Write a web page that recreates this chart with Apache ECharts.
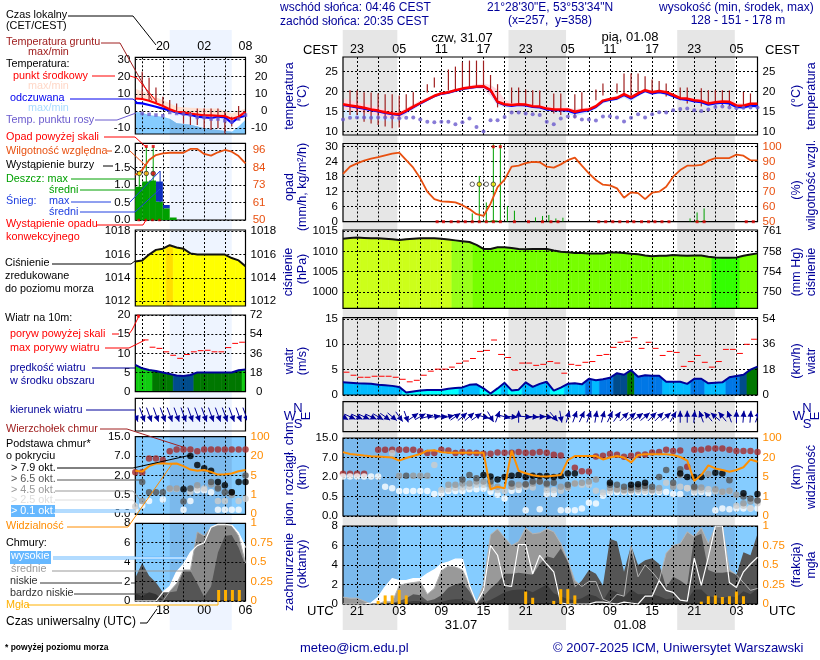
<!DOCTYPE html>
<html>
<head>
<meta charset="utf-8">
<style>html,body{margin:0;background:#fff}#chart{width:820px;height:660px}</style>
<script src="https://cdn.jsdelivr.net/npm/echarts@6/dist/echarts.min.js"></script>
</head>
<body>
<div id="chart"></div>
<script>
// main meteogram: hour 0 = 19 UTC 30.07, 60 hourly values
var cestLabels = ['23', '05', '11', '17', '23', '05', '11', '17', '23', '05'];
var utcLabels = ['21', '03', '09', '15', '21', '03', '09', '15', '21', '03'];
var localLabels = ['20', '02', '08'];
var utcLeftLabels = ['18', '00', '06'];
var nightRanges = [[0, 7.77], [23.58, 31.77], [47.58, 55.77]];
var nightLeft = [[5, 14]];

var tempMid = [16.8,16.5,16.2,15.9,15.5,15.2,14.8,14.5,14.3,15.2,16.2,17.1,18,18.9,19.5,19.8,20.3,20.7,21,21.2,21.3,20.3,17.4,16.8,16.6,16.8,16.7,16.3,16.2,15.7,15.5,15.5,15.5,14.9,15.3,15.5,16.3,17.7,18.1,18.4,19.3,18.5,19.5,20.3,19.8,20.1,19.8,19.1,18.3,18.2,17.8,17.6,17,17.3,17.5,17.4,16.5,16.4,16.9,16.9];
var tempFeels = [16.6,16.3,16,15.7,15.3,15,14.6,14.3,14.1,15,16,17,17.9,18.8,19.4,19.7,20.2,20.6,20.9,21.1,21.2,20.2,17.3,16.6,16.4,16.6,16.5,16.1,16,15.5,15.3,15.3,15.2,14.6,15,15.3,16.1,17.5,17.9,18.2,19.1,18.2,19.2,20.1,19.5,19.8,19.5,18.8,18.1,17.9,17.5,17.3,16.7,17,17.2,17,16.1,16,16.4,16.3];
var tempMax = [18.3,17.8,17.3,17,16.5,16,15.5,15.2,14.9,15.8,16.8,17.8,18.4,19.3,19.9,20.1,20.6,21.1,21.5,21.8,22,21.6,20.5,18,17.2,17.3,17.1,16.9,16.6,16.3,16.1,16.1,16,15.6,15.8,16,16.7,18,18.5,18.9,19.7,19,19.9,20.7,20.2,20.5,20.2,19.5,18.8,18.6,18.3,18.1,17.6,17.8,18,17.9,17.1,17,17.3,17.3];
var tempMin = [15.5,15.2,15,14.6,14.2,14,13.6,13.2,13,14.5,15.6,16.8,17.6,18.6,19.1,19.4,19.9,20.4,20.6,20.8,20.6,19,16.7,16.2,16.1,16.3,16.2,15.9,15.8,15.3,15.1,15.1,15,14.4,14.8,15.1,15.9,17.3,17.7,18,18.8,18,19,19.9,19.4,19.7,19.3,18.7,17.9,17.7,17.3,17.1,16.5,16.8,17,16.9,16,15.9,16.5,16.5];
var feelsMin = [13.6,13.5,13.3,13.2,13,12.8,12.6,12.5,12.4,14.2,15.4,16.6,17.5,18.5,19,19.3,19.8,20.3,20.5,20.7,20.5,18.8,16.5,16,15.9,16.1,16,15.7,15.5,15,14.7,14.6,14.4,13.8,14.2,14.7,15.6,17,17.5,17.7,18.4,17.5,18.7,19.7,19.1,19.4,19,18.4,17.7,17.4,17,16.7,16,16.4,16.6,16.5,15.6,15.5,16,16];
var dewPoint = [13,13.4,13.5,13.5,13.4,13.5,13.5,13.5,13.3,13.4,13.5,13,12.4,12.3,12.4,12.4,11.8,12.3,13.2,11.1,10,12.8,12.8,13.6,14.7,14.7,14.5,14.3,14.1,12.4,11.8,13.2,13.7,13.7,13,13,12.7,13.7,13.8,13.5,12.5,13.4,14.3,13.5,14.3,14.8,14.7,15.3,15.6,15.7,15.3,15.1,15.5,16.1,16.2,16,15.8,15.9,16,16];
var groundMax = [null,20.3,20.2,19.8,19.7,19.5,19.3,19.3,19,19.3,19.8,null,21.8,23.5,null,25.5,26.2,27.3,27.7,27.7,27.7,24.1,21.8,null,21,21,20.5,20.3,20.2,null,19.5,19.5,null,19.3,19.8,null,20.5,22,null,22,24.5,24.5,24.5,23.8,23,22.6,22,null,21,21,null,20.8,20.3,20.3,20.3,20.2,null,19.9,19.5,null];
var groundMin = [null,14.1,14.1,12.4,12,11.6,11.2,10.8,11,15.5,16.2,null,19.7,21,null,20.2,20.3,20.5,20.9,21.2,21,20.3,16,null,17,17,16.6,16.2,16.2,null,14.5,14.1,null,13.3,14.9,null,17.8,19,null,19.5,19,18.3,19,19.9,19.5,19.9,18.7,null,17.8,17,null,16.2,16.6,17,16.6,16.3,null,16.2,16.2,null];

var humidity = [81.8,86.7,88.9,90.7,92,93,94.2,95.3,96,91,86,78.9,70,65,63.6,63.3,62.9,61,58.4,55,53.8,62,73,78,86.7,87.3,89,89.8,89.6,86.7,86,88.2,91,92.7,87.3,82.2,77.8,74.7,74.2,72.2,66,69.6,69,65,69.3,70,73.3,80,84.4,87.3,87.3,87.8,90.7,92.4,92.4,92.4,94.7,94,91,90.9];
var rainMaxHours = [18.4,19.4,20.4,21.4,22.4,23.4,24.4,27.4,28.4,29.3,30.3,31.3,49.4,50.4,51.4];
var rainMaxValues = [3.3,18.3,7.7,31,31,6.3,4.4,1.7,2.3,2.7,1.3,1.6,1.3,3.7,5.3];
var rainMeanHours = [20, 21, 50];
var rainMeanValues = [0.3, 0.5, 0.3];
var rainOverHours = [21.4, 22.4];
var rainOverValues = [30, 30];
var convectiveHours = [13.4,14.3,15.4,16.4,17.4,18.4,19.4,20.4,21.4,22.4,24.4,26.4,28.4,29.6,30.6,36.4,37.4,38.4,39.4,40.5,41.4,42.5,43.5,44.4,45.4,46.4,50.4,51.4,57.4,58.4];
var stormHollowHours = [18.4, 20.4];
var stormYellowHours = [19.4, 21.4];
var stormLevel = 15;

var pressure = [1013.1,1013.3,1013.4,1013.3,1013.2,1013.2,1013.1,1013,1012.8,1013,1013.1,1013.2,1013.2,1013.2,1013.1,1012.9,1012.7,1012.5,1012.3,1011.6,1010.6,1010.6,1011,1011,1010.8,1010.6,1010.5,1010.6,1010.6,1010.6,1010.2,1009.9,1009.8,1009.6,1009.6,1009.5,1009.5,1009.5,1009.7,1009.7,1009.6,1009.4,1009.3,1009,1008.8,1008.9,1008.9,1009.1,1009,1008.9,1009,1009,1008.7,1008.5,1008.4,1008.4,1008.5,1008.9,1009.2,1009.5];
var pressureTicks = [1000, 1005, 1010, 1015];
var mmHgLabels = ['750', '754', '758', '761'];

var windSpeed = [2.5,2.4,2.3,2.25,2.2,2,1.9,1.8,1.6,0.5,0.7,0.9,1,1,1,1.25,1.4,1.5,2,2.1,1.3,0.3,1.3,2.4,0.9,1.05,2.5,1.6,2.2,2.6,0.85,1.45,2.2,2.3,2.1,3.2,2.9,3.1,3.4,4.3,4,4.9,3.6,3.9,3.8,3.8,2.6,2.6,2.6,2.2,3.2,3.2,2.3,2.4,2.5,3.5,3.75,4,5,5.6];
var windGust = [4.5,3.9,3.5,3.5,3.7,3.7,3.7,3.5,3.1,2.6,2.9,3.9,4.7,5.1,5.1,5.5,6.25,6.7,7.2,8.6,8.8,10.85,8,7.4,4.9,6.3,6.3,5.85,6.05,6.6,6.3,4.3,6.05,5.85,6.45,6.6,7.8,8,9.4,10.4,10.6,11.3,9.2,10.4,9.2,7.8,8.6,8.4,5.65,6.6,7.8,6.45,5.5,6.6,9,9,8.2,10,11];
var windHeading = [120,115,115,115,115,120,125,130,145,160,55,60,75,80,85,75,55,50,50,55,105,150,20,105,95,0,95,95,90,100,140,170,15,20,25,20,10,15,25,35,45,50,55,50,45,45,50,30,0,0,5,340,320,310,320,340,0,5,5,20];

var heightStops = [0, 0.5, 2, 7, 15];
var visStops = [0, 1, 5, 20, 100];
var heightLabels = ['0.0', '0.5', '2.0', '7.0', '15.0'];
var visLabels = ['0', '1', '5', '20', '100'];
var cloudTop = [2.85,2.85,2.85,2.85,null,10.15,10.15,10.15,10.15,10.15,10.15,9.6,8.8,8.8,10.15,9.9,8.8,9.3,9.05,8.8,8.5,8.5,9.05,8.9,8.9,9.3,8.9,8.9,9.3,8.9,8.1,7.8,null,4.4,3.5,3.4,7.4,7.7,8.4,8.1,7.3,7.7,8.1,8.2,9.05,9.3,10.2,9.7,9.9,4.6,10.2,10.2,10.7,10.7,10.7,10.2,9.7,9.7,9.7,9.3];
var base79Hours = [20,21,22,23,24,25,26,27,28,29,30,31,32,33,38,41,42,43,48,49,50,51,53,54,57,59];
var base79Km = [2.5,2.1,1.8,2,2.35,2.5,2,2.35,2.25,2.25,2,2.25,2.9,2.9,1.55,1.4,1.45,1.55,2.9,2,2,2,3.1,2.9,0.75,0.7];
var base65Hours = [9,17,18,19,21,24,26,27,28,29,30,32,38,39,40,41,42,43,44,45,46,47,48,50,55,57,58,59];
var base65Km = [2.35,1.8,2.5,1.9,1.65,1.5,1.45,1.65,1.65,1.5,1.55,1.4,1.4,1.4,1.25,1.15,1.25,1.3,1.25,2,3.8,1.55,4,1.25,1.75,0.5,0.45,0.4];
var base45Hours = [8,10,11,12,15,16,17,18,19,20,21,22,24,25,26,27,28,29,31,32,33,34,35,36,38,39,40,41,42,43,44,45,47,48,50,51,52,53,54,55,56,57,58,59];
var base45Km = [2.35,2.35,2.35,2.35,1.4,1.4,1.5,1.5,1.65,1.65,1.4,1.25,1.25,1.4,1.4,1.5,1.65,1.4,1.25,1.25,1.5,1.55,1.65,1.8,1.15,1.05,1,1,1.05,1.15,1,1.15,1.25,2.5,1.15,1.2,2.8,1.05,0.87,0.95,0.63,0.33,0.37,0.4];
var base25Hours = [7,13,14,15,16,17,18,19,20,21,22,23,24,25,26,27,28,29,30,31,32,33,34,35,36,37,38,39,40,41,42,43,44,45,46,47,48,49,50,51,52,53,54,55,56,57,58,59];
var base25Km = [8.8,5.1,1,1.05,1.15,1.2,1.25,1.4,1.4,1.15,1,0.92,1.25,1.25,1.25,1.2,1.65,1,1,0.95,1.15,1.5,1.4,1.4,0.95,0.8,0.95,1,0.9,0.95,0.95,0.95,0.95,0.95,1.55,1.4,1.25,1.15,0.95,1,1.05,0.9,0.85,0.9,0.26,0.26,0.2,0.33];
var base01Km = [2.15,2.15,2.15,2.15,2.15,2.15,1.25,1.13,0.92,0.92,0.92,0.92,0.92,0.69,0.73,0.92,0.92,0.92,1.05,1.05,1.1,0.87,0.63,0.45,0.95,1,0.15,null,0.17,0.7,0.7,0.15,0.15,0.15,0.19,0.34,0.32,0.56,0.8,0.85,0.85,0.85,0.85,0.85,0.85,0.85,0.85,0.7,0.7,1.13,0.8,0.85,0.75,0.15,0.19,0.17,0.19,0.19,0.19,0.19];
var visibility = [42,34,31,28,25.6,24,22.4,20,17.6,19.6,26,34,48,50,42,40,40,40,40,40,40,2.5,3,2.7,48,9.8,7.9,6.3,5.5,5.3,6,6.5,18,26,26,26,26,18.5,20,26,20,16.2,30,33,33,33,33,30,22,17.6,4.2,6.5,14,11.6,10.4,9,10.4,12.5,18.5,16.7];

var coverHigh = [0,0,0,0,0.1,0.7,1.75,2.6,2.4,2.4,2.6,2.6,3.1,3.5,4.1,4.3,4.6,4.6,1.9,0.1,1.4,6,5,1.9,1.8,6.1,6.1,3.1,5,4.1,3.3,0.1,0,0,0,0,0.2,0.2,0.1,0,0.2,0.1,0,0.8,0.8,2.4,1.4,1.2,0.4,0.3,4.7,1.9,4.8,8,8,2.2,1.7,3.3,4.1,4.8];
var coverMid = [0.7,0.6,0.6,0.3,0,0,0.3,0.2,1.9,2.1,2.2,2.3,1,1.6,3.4,3.9,3.8,3.5,2,0.1,2,7.1,7.7,6.8,6,6.4,7.8,7.2,7.3,7.7,7.4,6.2,4.5,2.4,1.8,2.3,2.3,0.5,0.2,1,0.8,5.9,2.8,4,3.3,2.4,5.2,6,6.2,7.4,6.9,7.8,6.2,7.9,8,3.5,3,2.2,1.4,1.6];
var coverLow = [0,0,0,0,0,0,0,0.1,0.3,0.6,1,0.9,0.3,0.5,0.9,1.7,2,2.2,1.3,0,0.8,1.6,2.2,3.1,3.1,3.2,3.1,3,4.1,4.9,4.7,5.7,4.3,1.7,2.4,3.5,3.1,1.9,6.7,6.4,3.3,6,4,4.5,4.7,4.1,1.7,2.8,2.4,1.9,6.9,7.2,3.5,3.2,3.2,3.3,3,5.3,5,7.2];
var coverVeryLow = [0,0,0,0,0,0,0,0,0.1,0.2,0.3,0.3,0.1,0.1,0.2,0.4,0.5,0.5,0.3,0,0.2,0.4,0.8,1.2,1.4,1.5,1.5,1.2,1.6,2,1.1,0.8,0.5,0.4,0.6,1,0.8,0.3,1.5,1.2,0.7,1.5,1,1,1,0.8,0.5,0.6,0.4,0.4,1.5,1.5,0.8,0.7,0.6,0.8,0.7,1.3,1,1.6];
var fogHours = [5,6,7,8,9,26,27,30,31,32,33,51,52,53,54,55,56,57];
var fogValues = [0.04,0.11,0.11,0.18,0.11,0.16,0.08,0.04,0.19,0.19,0.11,0.03,0.1,0.11,0.09,0.1,0.16,0.1];

// small legend charts on the left: hour 0 = 14 UTC 30.07, 17 hourly values
var leftTempMid = [7.3,7,6,4.5,3,1,-0.4,-0.8,-1.5,-2,-2.5,-2.5,-2.7,-2.9,-4.6,-3.3,-0.4];
var leftFeels = [4.8,4.5,3.5,2.5,1.4,0.4,-0.8,-1.7,-2.1,-3.3,-3.7,-4,-3.3,-3.7,-6.8,-3.7,-2.7];
var leftTempMax = [13,11.5,10,8,6.4,4.5,2.5,2.2,2,1.8,1.5,1.5,1.5,0,-1.4,0,1.5];
var leftFeelsMax = [-0.4,-1,-2.3,-2.8,-3.3,-4.5,-7,-7.5,-8,-9,-10,-10.5,-11,-11.5,-12,-9,-5];
var leftDew = [null,-1.4,-1.9,-2.3,-2.7,-0.8,-1.4,-1.7,-2.3,-3.7,-3.7,-4.6,-4.6,-5.6,-6.2,-4.6,-2.3];
var leftGroundMax = [null,22.8,19.3,13.7,8.3,6.4,4.4,0,-0.4,1.5,1.5,1.5,1.5,-0.4,-3.3,2.9,null];
var leftGroundMin = [null,6.4,6.4,4.4,2.5,-0.4,-1.4,-7.2,-8.1,-8.1,-10,-11,-10,-13,-9,-5.2,null];
var leftHumidity = [79.6,82.9,89.4,92.7,93.8,94.2,94.2,94.2,96.7,96.7,93.4,92.3,94.5,96,94.9,92,87.2];
var leftRain = [0.95,1.1,1.13,0.52,0.33,0.07];
var leftSnowTop = [null,null,null,1.1,0.43,null];
var leftRainMaxHours = [0.58, 1.6, 2.6];
var leftRainMaxValues = [1.33, 2.1, 2.1];
var leftRainOverHours = [1.6, 2.6];
var leftRainOverValues = [2.1, 2.1];
var leftSnowMaxHours = [3.6];
var leftSnowMaxValues = [1.4];
var leftPressure = [1015.4,1015.5,1016,1016.4,1016.5,1016.8,1016.6,1016.5,1016.1,1016,1016,1016,1016,1016,1015.7,1015.5,1015];
var leftWind = [7,6.1,5.65,5.4,5,4.6,4.2,4.1,4.35,5,5,5,5,5,5,5.6,5.8];
var leftGust = [null,13.5,11.6,11.3,10.4,9.5,8.7,9.7,10.4,10.7,10.8,10.4,10.4,11.5,12.6,12.9];
var leftHeading = [160,160,160,160,160,160,160,160,160,160,160,160,160,160,160,160,160];
var leftCloudTop = [2.85,2.85,6.4,6.4,6,9,9.7,9.7,9.7,9,9.7,9.7,9.7,9.7,9.7,9.7,9.7];
var leftBase79Hours = [7,8,9,10,11,12,13,14,15,16];
var leftBase79Km = [0.93,7,4.7,3.9,3.2,1.5,1.25,0.7,1.5,1.5];
var leftBase65Hours = [1,2,3,4,7,8,11,12,13,14,16];
var leftBase65Km = [1.5,0.7,0.7,0.7,0.33,1,1.5,1,0.7,0.7,2];
var leftBase45Hours = [1,5,6,9,11,12,14];
var leftBase45Km = [0.34,1,1,1.25,1.3,1.1,0.5];
var leftBase25Hours = [0,5,6,8,9,10,12,13,15,16];
var leftBase25Km = [0.2,0.95,0.95,0.75,1,1,0.34,0.34,0.34,0.4];
var leftBase01Hours = [0,1,2,4,7,8,9,10,11,12,13,14,15];
var leftBase01Km = [0.12,0.23,0.34,0.38,0.12,0.34,0.85,0.85,0.7,0.12,0.12,0.12,0.12];
var leftVisibility = [8.6,8,12.2,14.3,14.3,14,14.3,12.2,9.6,8.6,9.2,7.8,5.7,6,6.5,8.3,9.2];
var leftCoverHigh = [0,0,0,0,0.9,1.5,3,3.8,5,5.7,6,7.6,7.9,7.9,7.8,7,5.5];
var leftCoverMid = [0,0,0,0,0,1,1.8,3.2,3.2,7.1,6.7,7.6,7.8,7.8,7.8,6.7,3.9];
var leftCoverLow = [2.4,3.9,2.6,1.9,0.9,0.9,1,3.2,3.1,1.8,0.4,1.5,5,6.7,6.8,5.5,3.6];
var leftCoverVeryLow = [0.8,0.5,0.9,0.7,0.1,0,0,0,0,0,0,0,0,0,0,0,0];
var leftFogHours = [12.1, 13.1, 14.1, 15.1];
var leftFogValues = [0.14, 0.14, 0.14, 0.14];

var FONT = '"Liberation Sans", Arial, sans-serif';
var NAVY = '#000099';
var SKY = '#85ccff';
var SKY_NIGHT = '#7bb9ec';

var grids = [], xAxes = [], yAxes = [], series = [];

function range(a, b, step) {
    var out = [];
    for (var v = a; v <= b; v += step) out.push(v);
    return out;
}

function toScale(v, stops) {
    if (v == null) return null;
    for (var i = 1; i < stops.length; i++) {
        if (v <= stops[i]) return i - 1 + (v - stops[i - 1]) / (stops[i] - stops[i - 1]);
    }
    return stops.length - 1;
}

function addY(gridIdx, cfg, position) {
    var labels = cfg.labels;
    var ticks = cfg.ticks;
    yAxes.push({
        type: 'value', gridIndex: gridIdx, position: position, min: cfg.min, max: cfg.max, z: 5,
        axisLine: { show: false },
        axisTick: { show: false, customValues: ticks },
        splitLine: { show: position == 'left' && !cfg.noGrid, customValues: ticks, lineStyle: { color: '#000', type: [2, 2], width: 1 } },
        axisLabel: {
            show: !cfg.noLabel, customValues: ticks, color: cfg.color || '#000', fontFamily: FONT, fontSize: 11.5,
            margin: cfg.margin == null ? 5 : cfg.margin, align: cfg.align,
            formatter: function (v) { return labels ? labels[ticks.indexOf(v)] : String(v); }
        }
    });
    return yAxes.length - 1;
}

// one framed panel: grid, x axis, left y axis and optional right y axis
function addPanel(box, xMax, gridHours, xLabelCfg, yLeft, yRight) {
    grids.push({
        show: true, z: 6, left: box[0], top: box[1], width: box[2] - box[0], height: box[3] - box[1],
        borderColor: '#000', borderWidth: 1.2, backgroundColor: 'transparent', containLabel: false
    });
    var g = grids.length - 1;
    var lab = xLabelCfg || {};
    xAxes.push({
        type: 'value', gridIndex: g, min: 0, max: xMax, position: lab.position || 'bottom', z: 5,
        axisLine: { show: false },
        axisTick: { show: false, customValues: gridHours },
        splitLine: { show: true, lineStyle: { color: '#000', type: [2, 2], width: 1 } },
        axisLabel: {
            show: !!lab.hours, customValues: lab.hours, color: '#000', fontFamily: FONT, fontSize: 12.5, margin: lab.margin || 2,
            formatter: function (v) { return lab.labels[lab.hours.indexOf(v)]; }
        }
    });
    var p = { x: xAxes.length - 1, y: addY(g, yLeft, 'left') };
    p.yr = yRight ? addY(g, yRight, 'right') : p.y;
    return p;
}

function pairs(arr) { return arr.map(function (v, i) { return [i, v]; }); }
function zip(xs, ys) { return xs.map(function (x, i) { return [x, ys[i]]; }); }

function addLine(p, arr, color, width, z, yIdx) {
    series.push({
        type: 'line', xAxisIndex: p.x, yAxisIndex: yIdx == null ? p.y : yIdx, data: pairs(arr),
        showSymbol: false, silent: true, z: z || 8, connectNulls: false,
        lineStyle: { color: color, width: width }
    });
}

function addArea(p, arr, color, z) {
    series.push({
        type: 'line', xAxisIndex: p.x, yAxisIndex: p.y, data: pairs(arr), showSymbol: false, silent: true, z: z,
        lineStyle: { width: 0 }, itemStyle: { color: color }, areaStyle: { color: color, opacity: 1, origin: 'start' }
    });
}

function addDots(p, data, color, size, opts) {
    opts = opts || {};
    series.push({
        type: 'scatter', xAxisIndex: p.x, yAxisIndex: opts.y == null ? p.y : opts.y,
        data: data.filter(function (d) { return d[1] != null; }), symbol: opts.symbol || 'circle', symbolSize: size,
        silent: true, z: opts.z || 9, clip: false,
        itemStyle: { color: color, borderColor: opts.border, borderWidth: opts.border ? 1 : 0 }
    });
}

function custom(p, data, renderItem, z, yIdx) {
    series.push({
        type: 'custom', xAxisIndex: p.x, yAxisIndex: yIdx == null ? p.y : yIdx,
        data: data, renderItem: renderItem, silent: true, z: z, clip: true
    });
}

// full-height colour bands [from, to]
function addBands(p, ranges, color, z) {
    custom(p, ranges, function (params, api) {
        var x0 = api.coord([api.value(0), 0])[0];
        var x1 = api.coord([api.value(1), 0])[0];
        var sys = params.coordSys;
        return { type: 'rect', shape: { x: x0, y: sys.y, width: x1 - x0, height: sys.height }, style: { fill: color } };
    }, z);
}

// filled polygon between two lists
function addBetween(p, hi, lo, color, z, start) {
    start = start || 0;
    custom(p, pairs(hi), function (params, api) {
        if (params.dataIndex != 0) return null;
        var pts = [], i;
        for (i = 0; i < hi.length; i++) pts.push(api.coord([start + i, hi[i]]));
        for (i = lo.length - 1; i >= 0; i--) pts.push(api.coord([start + i, lo[i]]));
        return { type: 'polygon', shape: { points: pts }, style: { fill: color } };
    }, z);
}

// fill below a curve, each hour coloured from its own value
function addColoredFill(p, arr, colorOf, floor) {
    custom(p, pairs(arr), function (params, api) {
        var i = params.dataIndex, v = arr[i];
        var xa = i == 0 ? i : i - 0.5, xb = i == arr.length - 1 ? i : i + 0.5;
        var va = i == 0 ? v : (arr[i - 1] + v) / 2, vb = i == arr.length - 1 ? v : (arr[i + 1] + v) / 2;
        var c = colorOf(v);
        return {
            type: 'polygon',
            shape: { points: [api.coord([xa, floor]), api.coord([xa, va]), api.coord([i, v]), api.coord([xb, vb]), api.coord([xb, floor])] },
            style: { fill: c, stroke: c, lineWidth: 0.6 }
        };
    }, 3);
}

// vertical bars [x, low, high]
function addVBars(p, rows, color, width, z, yIdx) {
    custom(p, rows.filter(function (r) { return r[1] != null && r[2] != null; }), function (params, api) {
        var a = api.coord([api.value(0), api.value(1)]);
        var b = api.coord([api.value(0), api.value(2)]);
        return { type: 'line', shape: { x1: a[0], y1: a[1], x2: b[0], y2: b[1] }, style: { stroke: color, lineWidth: width } };
    }, z, yIdx);
}

// boxes one hour wide [x, low, high]
function addBoxes(p, rows, color, z) {
    custom(p, rows.filter(function (r) { return r[2] != null; }), function (params, api) {
        var a = api.coord([api.value(0), api.value(1)]);
        var b = api.coord([api.value(0) + 1, api.value(2)]);
        return { type: 'rect', shape: { x: a[0], y: b[1], width: b[0] - a[0], height: a[1] - b[1] }, style: { fill: color } };
    }, z);
}

// red gust dashes, one hour wide
function addDashes(p, arr) {
    custom(p, pairs(arr).filter(function (r) { return r[1] != null; }), function (params, api) {
        var a = api.coord([api.value(0) + 0.08, api.value(1)]);
        var b = api.coord([api.value(0) + 0.92, api.value(1)]);
        return { type: 'line', shape: { x1: a[0], y1: a[1], x2: b[0], y2: b[1] }, style: { stroke: '#ff0000', lineWidth: 1 } };
    }, 9);
}

function addArrows(p, headings, len) {
    custom(p, pairs(headings), function (params, api) {
        var sys = params.coordSys;
        var cx = api.coord([api.value(0), 0])[0], cy = sys.y + sys.height / 2;
        var a = api.value(1) * Math.PI / 180;
        var dx = Math.sin(a), dy = -Math.cos(a);
        var tip = [cx + dx * len / 2, cy + dy * len / 2];
        var base = [tip[0] - dx * 6, tip[1] - dy * 6];
        return {
            type: 'group',
            children: [
                { type: 'line', shape: { x1: cx - dx * len / 2, y1: cy - dy * len / 2, x2: tip[0], y2: tip[1] }, style: { stroke: NAVY, lineWidth: 1 } },
                { type: 'polygon', shape: { points: [tip, [base[0] - dy * 3, base[1] + dx * 3], [base[0] + dy * 3, base[1] - dx * 3]] }, style: { fill: NAVY } }
            ]
        };
    }, 8);
}

function pressureColor(v) {
    if (v >= 1016.7) return '#ffdd00';
    if (v >= 1013.5) return '#ffff00';
    if (v >= 1012.8) return '#ccff1a';
    if (v >= 1012) return '#99ff1a';
    if (v >= 1008.6) return '#77ff00';
    return '#33ff00';
}

function windColor(v) {
    if (v >= 5.62) return '#11cc11';
    if (v >= 4.6) return '#007700';
    if (v >= 4) return '#004c8c';
    if (v >= 3) return '#0077e6';
    if (v >= 1.5) return '#00bbff';
    return '#00ffff';
}

// night bands behind everything, each one its own hidden grid
function bandGrid(left, right, xMax, ranges, color) {
    grids.push({ left: left, top: 30, width: right - left, height: 600, show: false });
    var g = grids.length - 1;
    xAxes.push({ type: 'value', gridIndex: g, min: 0, max: xMax, show: false });
    yAxes.push({ type: 'value', gridIndex: g, min: 0, max: 1, show: false });
    addBands({ x: xAxes.length - 1, y: yAxes.length - 1 }, ranges, color, 0);
}
bandGrid(342.7, 757.5, 59, nightRanges, '#e6e6e6');
bandGrid(135.3, 245.5, 16, nightLeft, '#eef4ff');

var gridMain = range(2, 56, 3);
var gridLeft = range(1, 13, 3);
var mainX = [343, 757.5];
var leftX = [135.3, 245.5];

// ---- main column ----
var pTemp = addPanel([mainX[0], 57, mainX[1], 135], 59, gridMain,
    { position: 'top', hours: range(2, 56, 6), labels: cestLabels, margin: 1 },
    { min: 9.1, max: 28.6, ticks: [10, 15, 20, 25] },
    { min: 9.1, max: 28.6, ticks: [10, 15, 20, 25] });
addBetween(pTemp, tempFeels, feelsMin, '#d6ecff', 3);
addBetween(pTemp, tempMax, tempMin, '#ffd8e0', 3);
addVBars(pTemp, pairs(groundMax).map(function (r, i) { return [r[0], groundMin[i], r[1]]; }), '#a02020', 1.2, 7);
addLine(pTemp, tempFeels, '#0000ff', 2.2);
addLine(pTemp, tempMid, '#ff0000', 2.5);
addDots(pTemp, pairs(dewPoint), '#6a5acd', 4);

var pRain = addPanel([mainX[0], 143.5, mainX[1], 221.7], 59, gridMain, null,
    { min: 0, max: 31.3, ticks: [0, 6, 12, 18, 24, 30] },
    { min: 50, max: 102.1, ticks: [50, 60, 70, 80, 90, 100], color: '#e85010' });
addVBars(pRain, zip(rainMaxHours, rainMaxValues).map(function (r) { return [r[0], 0, r[1]]; }), '#00a000', 1, 7);
addBoxes(pRain, zip(rainMeanHours, rainMeanValues).map(function (r) { return [r[0], 0, r[1]]; }), '#00a000', 7);
addLine(pRain, humidity, '#e85010', 1.8, 8, pRain.yr);
addDots(pRain, zip(convectiveHours, convectiveHours.map(function () { return 0; })), '#e00000', 3, { symbol: 'rect' });
addDots(pRain, zip(rainOverHours, rainOverValues), '#e00000', 3, { symbol: 'rect' });
addDots(pRain, zip(stormHollowHours, stormHollowHours.map(function () { return stormLevel; })), '#ffffff', 4.5, { border: '#333' });
addDots(pRain, zip(stormYellowHours, stormYellowHours.map(function () { return stormLevel; })), '#ffee00', 4.5, { border: '#333' });

var pPres = addPanel([mainX[0], 230, mainX[1], 308.3], 59, gridMain, null,
    { min: 996, max: 1015.25, ticks: pressureTicks },
    { min: 996, max: 1015.25, ticks: pressureTicks, labels: mmHgLabels });
addColoredFill(pPres, pressure, pressureColor, 996);
addLine(pPres, pressure, '#111', 2);

var pWind = addPanel([mainX[0], 317.7, mainX[1], 395], 59, gridMain, null,
    { min: 0, max: 15.25, ticks: [0, 5, 10, 15] },
    { min: 0, max: 54.9, ticks: [0, 18, 36, 54] });
addColoredFill(pWind, windSpeed, windColor, 0);
addLine(pWind, windSpeed, NAVY, 2);
addDashes(pWind, windGust);

var pDir = addPanel([mainX[0], 401.7, mainX[1], 431.7], 59, gridMain, null,
    { min: 0, max: 1, ticks: [], noLabel: true, noGrid: true });
addArrows(pDir, windHeading, 12);

var pCloud = addPanel([mainX[0], 438, mainX[1], 516], 59, gridMain, null,
    { min: 0, max: 4, ticks: [0, 1, 2, 3, 4], labels: heightLabels },
    { min: 0, max: 4, ticks: [0, 1, 2, 3, 4], labels: visLabels, color: '#ff8c00' });
addBands(pCloud, [[0, 59]], SKY, 1);
addBands(pCloud, nightRanges, SKY_NIGHT, 2);
function kmDots(p, rows, color, size) {
    addDots(p, rows.map(function (r) { return [r[0], toScale(r[1], heightStops)]; }), color, size);
}
kmDots(pCloud, pairs(cloudTop), '#a52a2a', 6.5);
kmDots(pCloud, pairs(base01Km), '#ffffff', 6.5);
kmDots(pCloud, zip(base25Hours, base25Km), '#cccccc', 6.5);
kmDots(pCloud, zip(base45Hours, base45Km), '#999999', 6.5);
kmDots(pCloud, zip(base65Hours, base65Km), '#555555', 6.5);
kmDots(pCloud, zip(base79Hours, base79Km), '#000000', 6.5);
addLine(pCloud, visibility.map(function (v) { return toScale(v, visStops); }), '#ff9000', 2, 10);

var pCover = addPanel([mainX[0], 526, mainX[1], 604], 59, gridMain,
    { hours: range(2, 56, 6), labels: utcLabels, margin: 1 },
    { min: 0, max: 8, ticks: [0, 2, 4, 6, 8] },
    { min: 0, max: 1, ticks: [0, 0.25, 0.5, 0.75, 1], color: '#ff8c00' });
addBands(pCover, [[0, 59]], SKY, 1);
addBands(pCover, nightRanges, SKY_NIGHT, 2);
addArea(pCover, coverHigh, '#ffffff', 3);
addArea(pCover, coverMid, '#999999', 3);
addArea(pCover, coverLow, '#555555', 3);
addArea(pCover, coverVeryLow, '#3d3d3d', 3);
addLine(pCover, coverMid, '#b5b5b5', 1, 7);
addLine(pCover, coverHigh, '#ffffff', 1.2, 8);
addVBars(pCover, zip(fogHours, fogValues).map(function (r) { return [r[0], 0, r[1]]; }), '#ffb000', 3, 9, pCover.yr);

// ---- legend column ----
var lTemp = addPanel([leftX[0], 57.3, leftX[1], 134], 16, gridLeft,
    { position: 'top', hours: [4, 10, 16], labels: localLabels, margin: 4 },
    { min: -13.3, max: 31.2, ticks: [-10, 0, 10, 20, 30] },
    { min: -13.3, max: 31.2, ticks: [-10, 0, 10, 20, 30], align: 'right', margin: 22 });
addArea(lTemp, leftFeelsMax, SKY, 3);
addBetween(lTemp, leftFeelsMax.slice(5, 15), [-14, -14, -14, -14, -14, -14, -14, -14, -14, -14], SKY_NIGHT, 3, 5);
addBetween(lTemp, leftTempMax, leftTempMid, '#ffe2d4', 3);
addVBars(lTemp, pairs(leftGroundMax).map(function (r, i) { return [r[0], leftGroundMin[i], r[1]]; }), '#a02020', 1.2, 7);
addLine(lTemp, leftFeels, '#0000ff', 2.2);
addLine(lTemp, leftTempMid, '#ff0000', 2.2);
addDots(lTemp, pairs(leftDew), '#6a5acd', 3.5, { symbol: 'rect' });

var lRain = addPanel([leftX[0], 143.3, leftX[1], 220], 16, gridLeft, null,
    { min: 0, max: 2.19, ticks: [0, 0.5, 1, 1.5, 2], labels: ['0.0', '0.5', '1.0', '1.5', '2.0'] },
    { min: 50, max: 100.4, ticks: [50, 61, 73, 84, 96], color: '#e85010', align: 'right', margin: 20 });
addBoxes(lRain, pairs(leftSnowTop).map(function (r, i) { return [r[0], leftRain[i], r[1]]; }), '#1030c0', 6);
addBoxes(lRain, pairs(leftRain).map(function (r) { return [r[0], 0, r[1]]; }), '#00a000', 6);
addVBars(lRain, zip(leftRainMaxHours, leftRainMaxValues).map(function (r) { return [r[0], 0, r[1]]; }), '#00a000', 1, 7);
addVBars(lRain, zip(leftSnowMaxHours, leftSnowMaxValues).map(function (r) { return [r[0], 0.5, r[1]]; }), '#1030c0', 1, 7);
addLine(lRain, leftHumidity, '#e85010', 1.8, 8, lRain.yr);
addDots(lRain, zip(leftRainOverHours, leftRainOverValues), '#e00000', 3, { symbol: 'rect' });
addDots(lRain, [[0.58, 1.33]], '#ffee00', 4.5, { border: '#333' });
addDots(lRain, [[1.6, 1.33]], '#ffa500', 4.5, { border: '#333' });
addDots(lRain, [[2.6, 1.33]], '#e00000', 4.5, { border: '#333' });
addDots(lRain, [[0.5, 0], [1.5, 0], [2.5, 0], [3.5, 0]], '#e00000', 2.5, { symbol: 'rect' });

var lPres = addPanel([leftX[0], 230, leftX[1], 306], 16, gridLeft, null,
    { min: 1011.6, max: 1018.1, ticks: [1012, 1014, 1016, 1018] },
    { min: 1011.6, max: 1018.1, ticks: [1012, 1014, 1016, 1018] });
addColoredFill(lPres, leftPressure, pressureColor, 1011.6);
addLine(lPres, leftPressure, '#111', 2);

var lWind = addPanel([leftX[0], 315, leftX[1], 391.7], 16, gridLeft, null,
    { min: 0, max: 20, ticks: [0, 5, 10, 15, 20] },
    { min: 0, max: 72, ticks: [0, 18, 36, 54, 72], align: 'right', margin: 17 });
addColoredFill(lWind, leftWind, windColor, 0);
addLine(lWind, leftWind, NAVY, 2);
addDashes(lWind, leftGust);
addDots(lWind, [[0.45, 19.7]], '#ff0000', 3, { symbol: 'rect' });

var lDir = addPanel([leftX[0], 398.3, leftX[1], 431], 16, gridLeft, null,
    { min: 0, max: 1, ticks: [], noLabel: true, noGrid: true });
addArrows(lDir, leftHeading, 15);

var lCloud = addPanel([leftX[0], 436.7, leftX[1], 514.3], 16, gridLeft, null,
    { min: 0, max: 4, ticks: [0, 1, 2, 3, 4], labels: heightLabels },
    { min: 0, max: 4, ticks: [0, 1, 2, 3, 4], labels: visLabels, color: '#ff8c00' });
addBands(lCloud, [[0, 16]], SKY, 1);
addBands(lCloud, nightLeft, SKY_NIGHT, 2);
kmDots(lCloud, pairs(leftCloudTop), '#a52a2a', 6.5);
kmDots(lCloud, zip(leftBase01Hours, leftBase01Km), '#ffffff', 6.5);
kmDots(lCloud, zip(leftBase25Hours, leftBase25Km), '#cccccc', 6.5);
kmDots(lCloud, zip(leftBase45Hours, leftBase45Km), '#999999', 6.5);
kmDots(lCloud, zip(leftBase65Hours, leftBase65Km), '#555555', 6.5);
kmDots(lCloud, zip(leftBase79Hours, leftBase79Km), '#000000', 6.5);
addLine(lCloud, leftVisibility.map(function (v) { return toScale(v, visStops); }), '#ff9000', 2, 10);

var lCover = addPanel([leftX[0], 523.3, leftX[1], 601], 16, gridLeft,
    { hours: [4, 10, 16], labels: utcLeftLabels, margin: 3 },
    { min: 0, max: 8, ticks: [0, 2, 4, 6, 8] },
    { min: 0, max: 1, ticks: [0, 0.25, 0.5, 0.75, 1], color: '#ff8c00' });
addBands(lCover, [[0, 16]], SKY, 1);
addBands(lCover, nightLeft, SKY_NIGHT, 2);
addArea(lCover, leftCoverHigh, '#ffffff', 3);
addArea(lCover, leftCoverMid, '#888888', 3);
addArea(lCover, leftCoverLow, '#555555', 3);
addArea(lCover, leftCoverVeryLow, '#333333', 3);
addLine(lCover, leftCoverMid, '#aaaaaa', 1, 7);
addLine(lCover, leftCoverHigh, '#ffffff', 1.2, 8);
addVBars(lCover, zip(leftFogHours, leftFogValues).map(function (r) { return [r[0], 0, r[1]]; }), '#ffb000', 3, 9, lCover.yr);

// ---- texts and leader lines ----
var notes = [
    ['Czas lokalny', 6, 15, '#000'], ['(CET/CEST)', 6, 26, '#000'],
    ['Temperatura gruntu', 6, 42, '#a02020'], ['max/min', 28, 52, '#a02020'],
    ['Temperatura:', 6, 64, '#000'], ['punkt środkowy', 13, 76, '#ff0000'],
    ['max/min', 28, 86, '#ffd8c8'], ['odczuwana', 10, 98, '#0000ee'],
    ['max/min', 28, 108, '#a8dcff'], ['Temp. punktu rosy', 6, 120, '#6a5acd'],
    ['Opad powyżej skali', 6, 137, '#ff0000'], ['Wilgotność względna', 6, 151, '#e85010'],
    ['Wystąpienie burzy', 6, 165, '#000'], ['Deszcz: max', 6, 179, '#00a000'],
    ['średni', 49, 190, '#00a000'], ['Śnieg:', 6, 201, '#2040e0'], ['max', 49, 201, '#2040e0'],
    ['średni', 49, 212, '#2040e0'], ['Wystąpienie opadu', 6, 224, '#ff0000'], ['konwekcyjnego', 6, 237, '#ff0000'],
    ['Ciśnienie', 5, 263, '#000'], ['zredukowane', 5, 276, '#000'], ['do poziomu morza', 5, 289, '#000'],
    ['Wiatr na 10m:', 5, 318, '#000'], ['poryw powyżej skali', 10, 334, '#ff0000'], ['max porywy wiatru', 10, 348, '#ff0000'],
    ['prędkość wiatru', 10, 368, NAVY], ['w środku obszaru', 10, 381, NAVY], ['kierunek wiatru', 10, 410, NAVY],
    ['Wierzchołek chmur', 6, 429, '#a02020'], ['Podstawa chmur*', 6, 444, '#000'], ['o pokryciu', 6, 456, '#000'],
    ['> 7.9 okt.', 11, 468, '#000'], ['> 6.5 okt.', 11, 479, '#555'], ['> 4.5 okt.', 11, 490, '#999'],
    ['> 2.5 okt.', 11, 500, '#ddd'], ['> 0.1 okt.', 11, 511, '#fff'], ['Widzialność', 6, 526, '#ff8c00'],
    ['Chmury:', 6, 543, '#000'], ['wysokie', 11, 556, '#fff'], ['średnie', 11, 569, '#999'],
    ['niskie', 10, 581, '#333'], ['bardzo niskie', 10, 593, '#333'], ['Mgła', 6, 605, '#ffb000'],
    ['Czas uniwersalny (UTC)', 6, 622, '#000', 12],
    ['wschód słońca: 04:46 CEST', 280, 8, NAVY, 12], ['zachód słońca: 20:35 CEST', 280, 22, NAVY, 12],
    ['wysokość (min, środek, max)', 659, 8, NAVY, 12],
    ['CEST', 303, 50, '#000', 13], ['CEST', 765, 50, '#000', 13], ['UTC', 307, 611, '#000', 13], ['UTC', 769, 611, '#000', 13],
    ['meteo@icm.edu.pl', 300, 648, NAVY, 13], ['© 2007-2025 ICM, Uniwersytet Warszawski', 553, 648, NAVY, 13]
];
var centered = [
    ['21°28\'30"E, 53°53\'34"N', 550, 8, NAVY, 12], ['(x=257,  y=358)', 550, 21, NAVY, 12], ['128 - 151 - 178 m', 738, 21, NAVY, 12],
    ['czw, 31.07', 462, 38, '#000', 13], ['pią, 01.08', 630, 37, '#000', 13], ['31.07', 461, 625, '#000', 13], ['01.08', 630, 625, '#000', 13],
    ['W', 290, 416, NAVY, 13], ['N', 298, 408, NAVY, 13], ['S', 298, 424, NAVY, 13],
    ['W', 799, 416, NAVY, 13], ['N', 807, 408, NAVY, 13], ['S', 807, 424, NAVY, 13]
];
var sideTitles = [
    ['temperatura', 290, 96], ['(°C)', 303, 96], ['(°C)', 797, 96], ['temperatura', 812, 96],
    ['opad', 290, 187], ['(mm/h, kg/m²/h)', 303, 187], ['(%)', 797, 190], ['wilgotność wzgl.', 812, 185],
    ['ciśnienie', 289, 272], ['(hPa)', 303, 269], ['(mm Hg)', 797, 272], ['ciśnienie', 812, 272],
    ['wiatr', 290, 361], ['(m/s)', 303, 361], ['(km/h)', 797, 361], ['wiatr', 812, 361],
    ['pion. rozciągł. chm.', 290, 472], ['(km)', 303, 477], ['(km)', 797, 477], ['widzialność', 812, 477],
    ['zachmurzenie', 290, 572], ['(oktanty)', 303, 564], ['(frakcja)', 797, 565], ['mgła', 812, 565]
];
var leaders = [
    ['#000', [[68, 16], [133, 16], [156, 45]]],
    ['#a02020', [[101, 43], [120, 43], [152, 100]]],
    ['#ff0000', [[92, 76], [115, 76]]], ['#ff0000', [[130, 76], [137, 78], [157, 102]]],
    ['#0000ee', [[70, 99], [133, 99], [137, 102]]],
    ['#6a5acd', [[95, 120], [117, 120], [136, 113]]],
    ['#ff0000', [[104, 137], [135, 137], [146, 147]]],
    ['#e85010', [[107, 151], [112, 151]]], ['#e85010', [[130, 151], [145, 165]]],
    ['#000', [[103, 166], [113, 166]]], ['#000', [[130, 166], [138, 172]]],
    ['#00a000', [[71, 179], [135, 179]]], ['#00a000', [[80, 190], [135, 190]]],
    ['#2040e0', [[71, 202], [111, 202]]], ['#2040e0', [[130, 202], [160, 171]]],
    ['#2040e0', [[80, 212], [135, 212], [160, 189]]],
    ['#ff0000', [[97, 225], [143, 225], [146, 220]]],
    ['#000', [[52, 264], [131, 264], [135, 261]]],
    ['#ff0000', [[112, 334], [119, 334]]], ['#ff0000', [[129, 334], [132, 330], [139, 316]]],
    ['#ff0000', [[105, 348], [129, 348], [145, 340]]],
    [NAVY, [[92, 368], [135, 368]]], [NAVY, [[86, 410], [135, 410]]],
    ['#a02020', [[100, 429], [127, 429], [183, 447]]],
    ['#000', [[57, 468], [133, 468], [191, 455]]],
    ['#555', [[57, 480], [143, 480]]],
    ['#999', [[55, 491], [133, 491], [140, 500]]],
    ['#ddd', [[55, 500], [133, 500], [137, 505]]],
    ['#ff8c00', [[67, 527], [128, 527], [172, 464]]],
    ['#999', [[52, 571], [192, 571]]],
    ['#333', [[40, 583], [122, 583]]], ['#333', [[131, 583], [135, 583]]],
    ['#333', [[74, 594], [148, 594]]],
    ['#ffb000', [[27, 605], [218, 605], [218, 600]]],
    ['#000', [[140, 623], [147, 623], [157, 609]]]
];
var doubleLeaders = [[[55, 511], [135, 511]], [[53, 558], [186, 558]]];

var elements = [
    { type: 'rect', shape: { x: 11, y: 505, width: 44, height: 12 }, style: { fill: '#66b8ff' }, z: 90 },
    { type: 'rect', shape: { x: 10, y: 551, width: 41, height: 13 }, style: { fill: '#66b8ff' }, z: 90 }
];
leaders.forEach(function (l) {
    elements.push({ type: 'polyline', shape: { points: l[1] }, style: { stroke: l[0], lineWidth: 1, fill: null }, z: 95 });
});
doubleLeaders.forEach(function (pts) {
    elements.push({ type: 'polyline', shape: { points: pts }, style: { stroke: '#66b8ff', lineWidth: 3, fill: null }, z: 95 });
    elements.push({ type: 'polyline', shape: { points: pts }, style: { stroke: '#fff', lineWidth: 1, fill: null }, z: 96 });
});
function textEl(t, align) {
    return {
        type: 'text', x: t[1], y: t[2], z: 100,
        style: { text: t[0], fill: t[3], font: (t[4] || 10.8) + 'px ' + FONT, align: align, verticalAlign: 'middle' }
    };
}
notes.forEach(function (t) { elements.push(textEl(t, 'left')); });
centered.forEach(function (t) { elements.push(textEl(t, 'center')); });
sideTitles.forEach(function (t) {
    var el = textEl([t[0], t[1], t[2], NAVY, 12.5], 'center');
    el.rotation = Math.PI / 2;
    elements.push(el);
});
[[306, 416], [815, 416]].forEach(function (pos) {
    var el = textEl(['E', pos[0], pos[1], NAVY, 13], 'center');
    el.rotation = Math.PI / 2;
    elements.push(el);
});
elements.push({
    type: 'text', x: 5, y: 648, z: 100,
    style: { text: '* powyżej poziomu morza', fill: '#000', font: 'bold 8.5px ' + FONT, verticalAlign: 'middle' }
});

var chart = echarts.init(document.getElementById('chart'));
chart.setOption({
    animation: false,
    backgroundColor: '#fff',
    textStyle: { fontFamily: FONT },
    grid: grids, xAxis: xAxes, yAxis: yAxes, series: series,
    graphic: { elements: elements }
});
</script>
</body>
</html>
